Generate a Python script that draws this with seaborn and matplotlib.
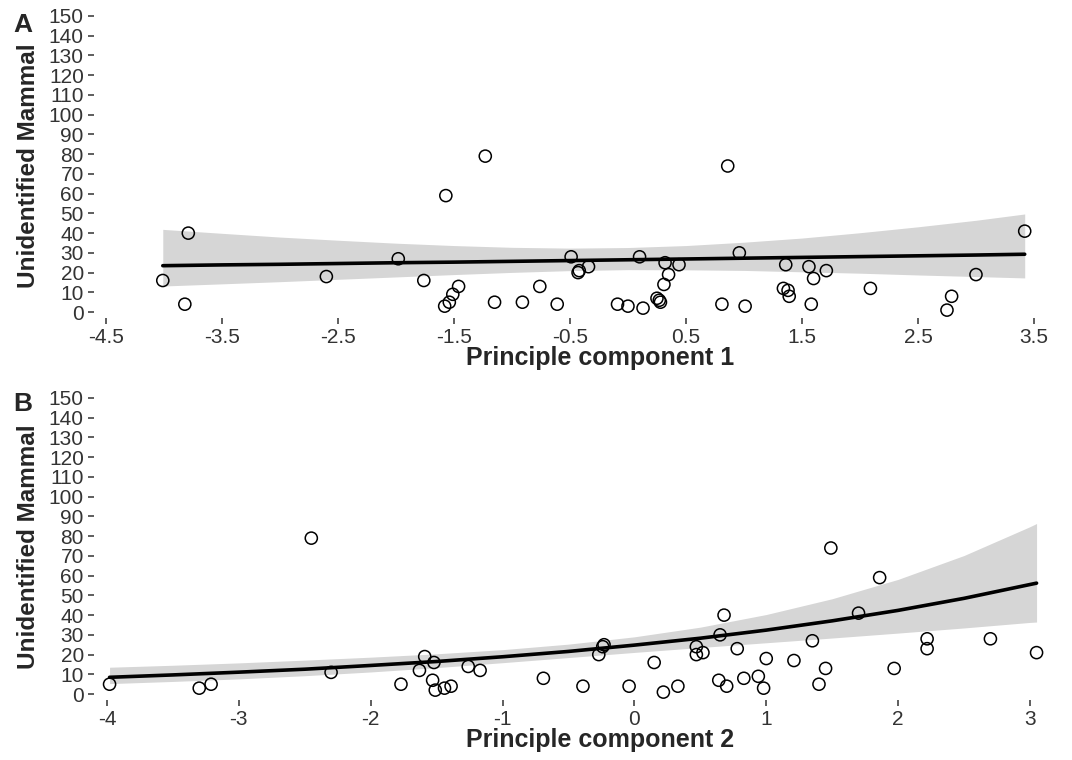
import matplotlib
matplotlib.use("Agg")
import matplotlib.pyplot as plt
import seaborn as sns

# ---- data ----
# Panel A: principle component 1
pc1 = [-4.01, -3.82, -3.79, -2.60, -1.98, -1.76, -1.57, -1.23, -1.46, -1.51, -1.54, -1.58,
       -1.15, -0.91, -0.76, -0.61, -0.49, -0.42, -0.43, -0.34, 0.10, 0.32, 0.44, 0.35,
       0.31, 0.25, 0.27, 0.28, -0.09, 0.00, 0.13, 0.86, 0.96, 0.81, 1.01, 1.36,
       1.34, 1.38, 1.39, 1.56, 1.60, 1.71, 1.58, 2.09, 3.00, 2.79, 2.75, 3.42]
mammal_a = [16, 4, 40, 18, 27, 16, 59, 79, 13, 9, 5, 3,
            5, 5, 13, 4, 28, 21, 20, 23, 28, 25, 24, 19,
            14, 7, 6, 5, 4, 3, 2, 74, 30, 4, 3, 24,
            12, 11, 8, 23, 17, 21, 4, 12, 19, 8, 1, 41]

fit_x_a = [-4.01, -3.5, -3, -2.5, -2, -1.5, -1, -0.5, 0, 0.5, 1, 1.5, 2, 2.5, 3, 3.42]
fit_a = [23.5, 23.9, 24.2, 24.6, 25.0, 25.3, 25.7, 26.1, 26.5, 26.9, 27.3, 27.7, 28.1, 28.5, 28.9, 29.3]
upper_a = [41.9, 39.9, 38.0, 36.4, 34.9, 33.7, 32.8, 32.4, 32.7, 33.7, 35.4, 37.5, 40.2, 43.2, 46.5, 49.7]
lower_a = [13.2, 14.3, 15.4, 16.6, 17.8, 19.0, 20.1, 21.0, 21.5, 21.4, 21.1, 20.4, 19.7, 18.8, 18.0, 17.3]

# Panel B: principle component 2
pc2 = [-3.98, -3.30, -3.21, -2.30, -2.45, -1.77, -1.59, -1.52, -1.63, -1.53, -1.51, -1.44,
       -1.39, -1.26, -1.17, -0.69, -0.39, -0.23, -0.24, -0.27, -0.04, 0.15, 0.22, 0.33,
       0.47, 0.47, 0.52, 0.65, 0.68, 0.64, 0.70, 0.78, 0.83, 0.94, 0.98, 1.00,
       1.21, 1.35, 1.45, 1.40, 1.49, 1.86, 1.70, 1.97, 2.22, 2.22, 2.70, 3.05]
mammal_b = [5, 3, 5, 11, 79, 5, 19, 16, 12, 7, 2, 3,
            4, 14, 12, 8, 4, 25, 24, 20, 4, 16, 1, 4,
            24, 20, 21, 30, 40, 7, 4, 23, 8, 9, 3, 18,
            17, 27, 13, 5, 74, 59, 41, 13, 28, 23, 28, 21]

fit_x_b = [-3.98, -3.5, -3, -2.5, -2, -1.5, -1, -0.5, 0, 0.5, 1, 1.5, 2, 2.5, 3, 3.05]
fit_b = [8.5, 9.7, 11.1, 12.6, 14.5, 16.5, 18.9, 21.6, 24.8, 28.3, 32.4, 37.1, 42.4, 48.5, 55.5, 56.2]
upper_b = [13.6, 14.6, 15.8, 17.2, 18.7, 20.4, 22.5, 25.3, 29.0, 33.9, 40.3, 48.3, 58.1, 70.2, 84.8, 86.4]
lower_b = [5.3, 6.4, 7.7, 9.3, 11.2, 13.4, 15.9, 18.5, 21.1, 23.6, 26.0, 28.4, 30.9, 33.5, 36.3, 36.5]

xticks_a = [-4.5, -3.5, -2.5, -1.5, -0.5, 0.5, 1.5, 2.5, 3.5]
xticklabels_a = ["-4.5", "-3.5", "-2.5", "-1.5", "-0.5", "0.5", "1.5", "2.5", "3.5"]
xticks_b = [-4, -3, -2, -1, 0, 1, 2, 3]
xticklabels_b = ["-4", "-3", "-2", "-1", "0", "1", "2", "3"]
yticks = list(range(0, 151, 10))

sns.set_theme(style="ticks")
plt.rcParams['font.family'] = ['Liberation Sans', 'DejaVu Sans']
plt.rcParams['axes.unicode_minus'] = False

fig = plt.figure(figsize=(10.72, 7.6), dpi=100)
ax_a = fig.add_axes([94 / 1072, (760 - 318) / 760, 951 / 1072, 304 / 760])
ax_b = fig.add_axes([94 / 1072, (760 - 700) / 760, 951 / 1072, 304 / 760])


def draw_panel(ax, x, y, fx, fy, lo, hi, xlim, xticks, xticklabels, xlabel, ylab_y):
    ax.fill_between(fx, lo, hi, color="#D6D6D6", lw=0, zorder=1)
    sns.lineplot(x=fx, y=fy, ax=ax, color="black", lw=2.6, sort=False,
                 estimator=None, zorder=2)
    sns.scatterplot(x=x, y=y, ax=ax, marker="o", s=76, facecolor="none",
                    edgecolor="black", linewidth=1.1, zorder=3)
    ax.set_xlim(*xlim)
    ax.set_ylim(-3, 151)
    ax.set_xticks(xticks)
    ax.set_xticklabels(xticklabels)
    ax.set_yticks(yticks)
    ax.set_yticklabels([str(v) for v in yticks])
    ax.tick_params(axis="both", length=4.3, width=1.1, color="#333333",
                   labelsize=15, labelcolor="#333333", pad=3)
    sns.despine(ax=ax, left=True, bottom=True)
    ax.set_xlabel(xlabel, fontsize=18, fontweight="bold")
    ax.set_ylabel("Unidentified Mammal", fontsize=17.5, fontweight="bold")
    ax.xaxis.set_label_coords(0.532, -0.092)
    ax.yaxis.set_label_coords(-0.057, ylab_y)


draw_panel(ax_a, pc1, mammal_a, fit_x_a, fit_a, lower_a, upper_a, (-4.603, 3.595),
           xticks_a, xticklabels_a, "Principle component 1", 0.5)
draw_panel(ax_b, pc2, mammal_b, fit_x_b, fit_b, lower_b, upper_b, (-4.098, 3.114),
           xticks_b, xticklabels_b, "Principle component 2", 0.505)

fig.text(23 / 1072, 1 - 25 / 760, "A", fontsize=19, fontweight="bold", ha="center", va="center")
fig.text(23 / 1072, 1 - 404 / 760, "B", fontsize=19, fontweight="bold", ha="center", va="center")

fig.savefig("out.png", dpi=100, facecolor="white")
